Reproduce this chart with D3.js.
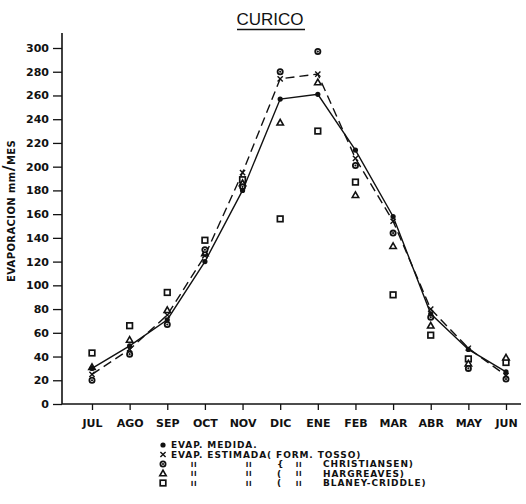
<!DOCTYPE html>
<html>
<head>
<meta charset="utf-8">
<script src="https://cdn.jsdelivr.net/npm/d3@7"></script>
<style>
  body { margin: 0; background: #fff; }
  text { fill: #111; }
</style>
</head>
<body>
<div id="chart"></div>
<script>
// Months (Jul -> Jun) and evaporation values in mm/mes
const months = ["JUL", "AGO", "SEP", "OCT", "NOV", "DIC", "ENE", "FEB", "MAR", "ABR", "MAY", "JUN"];
const medida = [30, 49, 71, 120, 180, 257, 261, 214, 158, 76, 46, 27];
const tosso = [25, 46, 75, 125, 195, 274, 278, 207, 154, 80, 47, 24];
const christiansen = [20, 42, 67, 130, 183, 280, 297, 201, 144, 73, 30, 21];
const hargreaves = [31, 54, 79, 127, 186, 237, 271, 176, 133, 66, 34, 39];
const blaney = [43, 66, 94, 138, 189, 156, 230, 187, 92, 58, 38, 35];
const yTicks = d3.range(0, 301, 20);

const width = 526, height = 504;
const font = "'DejaVu Sans', sans-serif";

const svg = d3.select("#chart")
    .append("svg")
    .attr("width", width)
    .attr("height", height);

const x = d3.scalePoint().domain(months).range([92, 506]);
const y = d3.scaleLinear().domain([0, 300]).range([404, 48]);

// Title with underline
svg.append("text")
    .attr("x", 270)
    .attr("y", 25)
    .attr("text-anchor", "middle")
    .attr("font-family", "'Liberation Sans', Arial, sans-serif")
    .attr("font-size", 17)
    .text("CURICO");
svg.append("line")
    .attr("x1", 237).attr("x2", 305)
    .attr("y1", 29.5).attr("y2", 29.5)
    .attr("stroke", "#111").attr("stroke-width", 1.6);

// Y axis
const yAxis = svg.append("g")
    .attr("transform", "translate(62,0)")
    .call(d3.axisLeft(y).tickValues(yTicks).tickSize(9).tickPadding(4));
yAxis.select(".domain").remove();
yAxis.selectAll("line").attr("stroke", "#111").attr("stroke-width", 1.3);
yAxis.selectAll("text")
    .attr("font-family", font)
    .attr("font-weight", "bold")
    .attr("font-size", 11)
    .attr("fill", "#111");
svg.append("line")
    .attr("x1", 62).attr("x2", 62)
    .attr("y1", y(0)).attr("y2", 33)
    .attr("stroke", "#111").attr("stroke-width", 1.6);

// X axis
const xAxis = svg.append("g")
    .attr("transform", `translate(0,${y(0)})`)
    .call(d3.axisBottom(x).tickSize(6).tickPadding(9));
xAxis.select(".domain").remove();
xAxis.selectAll("line").attr("stroke", "#111").attr("stroke-width", 1.3);
xAxis.selectAll("text")
    .attr("font-family", font)
    .attr("font-weight", "bold")
    .attr("font-size", 11)
    .attr("fill", "#111");
svg.append("line")
    .attr("x1", 62).attr("x2", 521)
    .attr("y1", y(0)).attr("y2", y(0))
    .attr("stroke", "#111").attr("stroke-width", 1.6);

// Y axis label
const yLabel = svg.append("text")
    .attr("transform", "translate(15,211) rotate(-90)")
    .attr("text-anchor", "middle")
    .attr("font-family", font)
    .attr("font-weight", "bold")
    .attr("font-size", 10)
    .attr("letter-spacing", 0.4);
yLabel.append("tspan").text("EVAPORACION mm");
yLabel.append("tspan").attr("font-size", 16).attr("dy", -1).text("/");
yLabel.append("tspan").attr("dy", 1).text("MES");

// Lines
const line = d3.line()
    .x((d, i) => x(months[i]))
    .y(d => y(d));

svg.append("path")
    .datum(medida)
    .attr("d", line)
    .attr("fill", "none")
    .attr("stroke", "#111")
    .attr("stroke-width", 1.4);

svg.append("path")
    .datum(tosso)
    .attr("d", line)
    .attr("fill", "none")
    .attr("stroke", "#111")
    .attr("stroke-width", 1.4)
    .attr("stroke-dasharray", "9,5");

// Marker drawing helpers
function dot(g, cx, cy) {
    g.append("circle").attr("cx", cx).attr("cy", cy).attr("r", 2.6).attr("fill", "#111");
}
function cross(g, cx, cy) {
    const s = 2.6;
    g.append("path")
        .attr("d", `M${cx - s},${cy - s}L${cx + s},${cy + s}M${cx - s},${cy + s}L${cx + s},${cy - s}`)
        .attr("stroke", "#111").attr("stroke-width", 1.4).attr("fill", "none");
}
function odot(g, cx, cy) {
    g.append("circle").attr("cx", cx).attr("cy", cy).attr("r", 2.6)
        .attr("fill", "#fff").attr("stroke", "#111").attr("stroke-width", 1.8);
    g.append("circle").attr("cx", cx).attr("cy", cy).attr("r", 1.1).attr("fill", "#111");
}
function tri(g, cx, cy) {
    g.append("path")
        .attr("d", `M${cx},${cy - 3.3}L${cx + 3.2},${cy + 2.3}L${cx - 3.2},${cy + 2.3}Z`)
        .attr("fill", "#fff").attr("stroke", "#111").attr("stroke-width", 1.6);
}
function square(g, cx, cy) {
    g.append("rect").attr("x", cx - 2.8).attr("y", cy - 2.8).attr("width", 5.6).attr("height", 5.6)
        .attr("fill", "#fff").attr("stroke", "#111").attr("stroke-width", 1.7);
}

const marks = svg.append("g");
const series = [
    { values: blaney, draw: square },
    { values: hargreaves, draw: tri },
    { values: christiansen, draw: odot },
    { values: tosso, draw: cross },
    { values: medida, draw: dot }
];
series.forEach(s => {
    s.values.forEach((v, i) => s.draw(marks, x(months[i]), y(v)));
});

// Legend
const legend = svg.append("g")
    .attr("font-family", font)
    .attr("font-weight", "bold")
    .attr("font-size", 9)
    .attr("letter-spacing", 0.9);
const rowY = [445, 454.5, 464, 473.5, 483];
const symX = 163;
const textX = 171;

dot(legend, symX, rowY[0]);
legend.append("text").attr("x", textX).attr("y", rowY[0]).attr("dy", "0.36em").text("EVAP. MEDIDA.");
cross(legend, symX, rowY[1]);
legend.append("text").attr("x", textX).attr("y", rowY[1]).attr("dy", "0.36em").text("EVAP. ESTIMADA( FORM. TOSSO)");

const names = ["CHRISTIANSEN)", "HARGREAVES)", "BLANEY-CRIDDLE)"];
const openers = ["{", "(", "("];
[odot, tri, square].forEach((f, k) => {
    const yy = rowY[k + 2];
    f(legend, symX, yy);
    [194, 249, 299].forEach(cx => {
        legend.append("text").attr("x", cx).attr("y", yy).attr("dy", "0.36em")
            .attr("font-size", 7).attr("letter-spacing", 0.6)
            .attr("text-anchor", "middle").text("II");
    });
    legend.append("text").attr("x", 277).attr("y", yy).attr("dy", "0.36em").text(openers[k]);
    legend.append("text").attr("x", 323).attr("y", yy).attr("dy", "0.36em").text(names[k]);
});
</script>
</body>
</html>
